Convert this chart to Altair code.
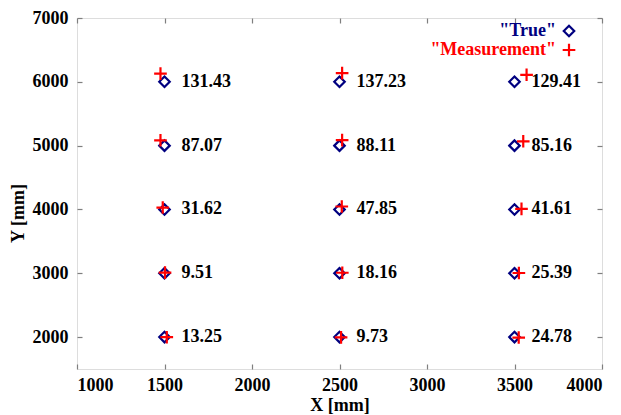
import altair as alt
import pandas as pd

true_x = [1500, 1500, 1500, 1500, 1500, 2500, 2500, 2500, 2500, 2500, 3500, 3500, 3500, 3500, 3500]
true_y = [6000, 5000, 4000, 3000, 2000, 6000, 5000, 4000, 3000, 2000, 6000, 5000, 4000, 3000, 2000]
meas_x = [1477, 1477, 1490, 1503, 1513, 2515, 2515, 2513, 2516, 2509, 3569, 3550, 3540, 3525, 3524]
meas_y = [6129, 5084, 4030, 3009, 1998, 6136, 5087, 4046, 3008, 1996, 6110, 5068, 4010, 3004, 1993]
errors = ["131.43", "87.07", "31.62", "9.51", "13.25", "137.23", "88.11", "47.85", "18.16", "9.73",
          "129.41", "85.16", "41.61", "25.39", "24.78"]
x_ticks = [1000, 1500, 2000, 2500, 3000, 3500, 4000]
y_ticks = [2000, 3000, 4000, 5000, 6000, 7000]
series_names = ['"True"', '"Measurement"']
series_colors = ["#000080", "#ff0000"]

rows = []
for i in range(len(true_x)):
    rows.append({"x": true_x[i], "y": true_y[i], "series": series_names[0]})
for i in range(len(meas_x)):
    rows.append({"x": meas_x[i], "y": meas_y[i], "series": series_names[1]})
pts = pd.DataFrame(rows)
labels = pd.DataFrame({"x": true_x, "y": true_y, "err": errors})

FONT = "Liberation Serif"
GRAY = "#7f7f7f"
PLUS = "M-1,0H1M0,-1V1"
SHAPES = ["diamond", PLUS]
SIZES = [110, 160]

xscale = alt.Scale(domain=[1000, 4000], nice=False, zero=False)
yscale = alt.Scale(domain=[1500, 7000], nice=False, zero=False)

common_axis = dict(domain=False, offset=-5, tickSize=5, tickColor=GRAY, tickWidth=1.2,
                   grid=False, format="d", labelFont=FONT, labelFontSize=18,
                   labelFontWeight="bold", labelColor="black", titleFont=FONT,
                   titleFontSize=18, titleFontWeight="bold", titleColor="black")

points = alt.Chart(pts).mark_point(filled=False, strokeWidth=2.2, opacity=1).encode(
    x=alt.X("x:Q", scale=xscale,
            axis=alt.Axis(orient="bottom", values=x_ticks, title="X [mm]", labelPadding=7,
                          titleY=46, titleBaseline="alphabetic", **common_axis)),
    y=alt.Y("y:Q", scale=yscale,
            axis=alt.Axis(orient="left", values=y_ticks, title="Y [mm]", labelPadding=9,
                          titleX=-64, titleY=195, titleAngle=-90, titleBaseline="middle",
                          titleAlign="center", **common_axis)),
    color=alt.Color("series:N", scale=alt.Scale(domain=series_names, range=series_colors),
                    legend=None),
    shape=alt.Shape("series:N", scale=alt.Scale(domain=series_names, range=SHAPES),
                    legend=None),
    size=alt.Size("series:N", scale=alt.Scale(domain=series_names, range=SIZES),
                  legend=None),
)

text = alt.Chart(labels).mark_text(align="left", baseline="middle", dx=17, font=FONT,
                                   fontSize=18, fontWeight="bold", color="black").encode(
    x=alt.X("x:Q", scale=xscale,
            axis=alt.Axis(orient="top", values=x_ticks, labels=False, title=None, **common_axis)),
    y=alt.Y("y:Q", scale=yscale,
            axis=alt.Axis(orient="right", values=y_ticks, labels=False, title=None, **common_axis)),
    text="err:N",
)

# legend (top-right, label left of symbol)
legend_layers = []
legend_rows_y = [13, 32]
for i, name in enumerate(series_names):
    ldf = pd.DataFrame({"series": [name]})
    legend_layers.append(
        alt.Chart(ldf).mark_text(align="right", baseline="middle", font=FONT, fontSize=18,
                                 fontWeight="bold", color=series_colors[i]).encode(
            x=alt.value(479), y=alt.value(legend_rows_y[i]), text="series:N"))
    legend_layers.append(
        alt.Chart(ldf).mark_point(filled=False, strokeWidth=2.2, opacity=1,
                                  shape=SHAPES[i], size=SIZES[i],
                                  color=series_colors[i]).encode(
            x=alt.value(492), y=alt.value(legend_rows_y[i])))

chart = alt.layer(points, text, *legend_layers).resolve_axis(
    x="independent", y="independent").properties(
    width=525, height=351,
    autosize=alt.AutoSizeParams(type="none"),
    padding={"left": 69, "top": 10, "right": 11, "bottom": 50},
).configure_view(stroke=GRAY, strokeWidth=1.5).configure(background="white")

chart.save("out.html", embed_options={"renderer": "svg", "actions": False})
